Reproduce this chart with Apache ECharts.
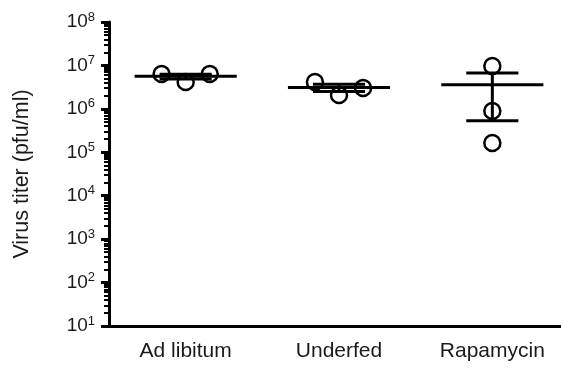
<!DOCTYPE html>
<html>
<head>
<meta charset="utf-8">
<script src="https://cdn.jsdelivr.net/npm/echarts@6/dist/echarts.min.js"></script>
<style>
  html, body { margin: 0; padding: 0; background: #fff; }
  #chart { width: 561px; height: 369px; }
</style>
</head>
<body>
<div id="chart"></div>
<script>
// groups on the x axis
var groups = ['Ad libitum', 'Underfed', 'Rapamycin'];
// individual titers (pfu/ml), left to right
var titers = [
    [6.35e6, 4.16e6, 6.35e6],
    [4.16e6, 2.08e6, 3.02e6],
    [9.7e6, 8.9e5, 1.64e5]
];
// mean line and error bar ends
var means = [5.6e6, 3.1e6, 3.6e6];
var errLow = [4.9e6, 2.5e6, 5.3e5];
var errHigh = [6.3e6, 3.7e6, 6.7e6];
// y tick values
var yTicks = [1e1, 1e2, 1e3, 1e4, 1e5, 1e6, 1e7, 1e8];

var minorTicks = [];
yTicks.slice(0, -1).forEach(function (d) {
    for (var m = 2; m <= 9; m++) minorTicks.push(d * m);
});

var summaryData = groups.map(function (g, i) {
    return [i, means[i], errLow[i], errHigh[i]];
});

// points that sit close together get spread sideways, like a column scatter
var pointData = [];
titers.forEach(function (vals, i) {
    var lo = Math.min.apply(null, vals), hi = Math.max.apply(null, vals);
    var spread = Math.log10(hi / lo) < 0.6;
    vals.forEach(function (v, k) {
        pointData.push([i, v, spread ? k - (vals.length - 1) / 2 : 0]);
    });
});

var chart = echarts.init(document.getElementById('chart'));
var option = {
    animation: false,
    grid: { left: 109, right: -8, top: 22, bottom: 43, outerBoundsMode: 'none' },
    xAxis: {
        type: 'category',
        data: groups,
        boundaryGap: true,
        axisLine: { lineStyle: { color: '#000', width: 3 } },
        axisTick: { alignWithLabel: true, length: 8, lineStyle: { color: '#000', width: 3 } },
        axisLabel: { color: '#1a1a1a', fontSize: 21, fontFamily: 'Liberation Sans', margin: 15 }
    },
    yAxis: [{
        type: 'log',
        logBase: 10,
        min: 10,
        max: 1e8,
        name: 'Virus titer (pfu/ml)',
        nameLocation: 'middle',
        nameGap: 76,
        nameTextStyle: { color: '#1a1a1a', fontSize: 21.5, fontFamily: 'Liberation Sans' },
        axisLine: { show: true, lineStyle: { color: '#000', width: 3 } },
        axisTick: { show: true, length: 8, lineStyle: { color: '#000', width: 3 } },
        splitLine: { show: false },
        axisLabel: {
            margin: 14,
            formatter: function (v) {
                return '{b|10}{s|' + Math.round(Math.log10(v)) + '}';
            },
            rich: {
                b: { fontSize: 19, color: '#1a1a1a', fontFamily: 'Liberation Sans', lineHeight: 22 },
                s: { fontSize: 13, color: '#1a1a1a', fontFamily: 'Liberation Sans', lineHeight: 22, padding: [0, 0, 10, 0] }
            }
        }
    }, {
        type: 'log',
        logBase: 10,
        min: 10,
        max: 1e8,
        position: 'left',
        axisLine: { show: false },
        axisLabel: { show: false },
        splitLine: { show: false },
        axisTick: { show: true, length: 5, customValues: minorTicks, lineStyle: { color: '#000', width: 2 } }
    }],
    series: [{
        type: 'custom',
        data: summaryData,
        renderItem: function (params, api) {
            var bw = api.size([1, 0])[0];
            var c = api.coord([api.value(0), api.value(1)]);
            var lo = api.coord([api.value(0), api.value(2)]);
            var hi = api.coord([api.value(0), api.value(3)]);
            var st = { stroke: '#000', lineWidth: 3, fill: null };
            var half = bw * 0.333, cap = bw * 0.17;
            return {
                type: 'group',
                children: [
                    { type: 'line', shape: { x1: c[0] - half, y1: c[1], x2: c[0] + half, y2: c[1] }, style: st },
                    { type: 'line', shape: { x1: c[0], y1: lo[1], x2: c[0], y2: hi[1] }, style: st },
                    { type: 'line', shape: { x1: c[0] - cap, y1: lo[1], x2: c[0] + cap, y2: lo[1] }, style: st },
                    { type: 'line', shape: { x1: c[0] - cap, y1: hi[1], x2: c[0] + cap, y2: hi[1] }, style: st }
                ]
            };
        }
    }, {
        type: 'custom',
        data: pointData,
        renderItem: function (params, api) {
            var bw = api.size([1, 0])[0];
            var p = api.coord([api.value(0), api.value(1)]);
            return {
                type: 'circle',
                shape: { cx: p[0] + api.value(2) * bw * 0.157, cy: p[1], r: 8 },
                style: { stroke: '#000', lineWidth: 2.5, fill: null }
            };
        }
    }]
};
chart.setOption(option);
</script>
</body>
</html>
